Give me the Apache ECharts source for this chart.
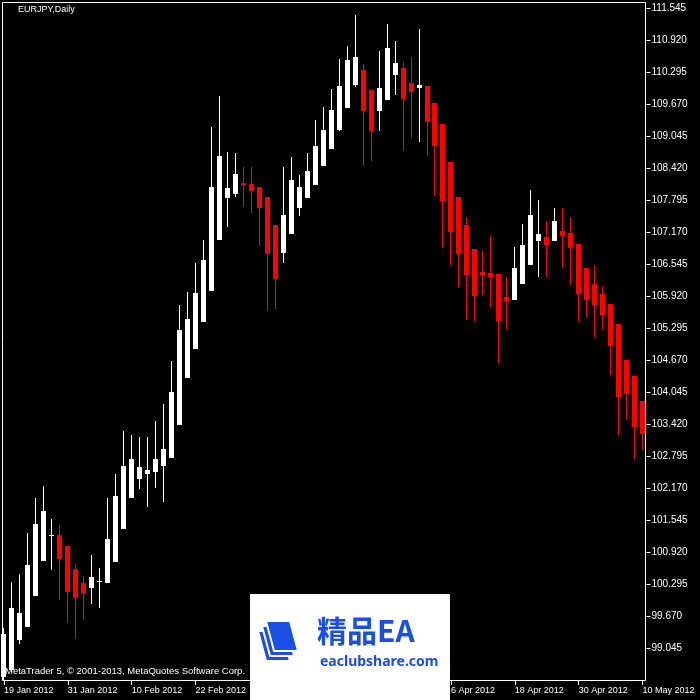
<!DOCTYPE html>
<html><head><meta charset="utf-8">
<script src="https://cdn.jsdelivr.net/npm/echarts@6/dist/echarts.min.js"></script>
<style>html,body{margin:0;padding:0;background:#000}#c{width:700px;height:700px}</style>
</head><body><div id="c"></div>
<script>
const chartTitle = 'EURJPY,Daily';
const copyrightText = 'MetaTrader 5, © 2001-2013, MetaQuotes Software Corp.';
const dates = [
 '19 Jan 2012','20 Jan 2012','23 Jan 2012','24 Jan 2012','25 Jan 2012','26 Jan 2012','27 Jan 2012','30 Jan 2012','31 Jan 2012',
 '1 Feb 2012','2 Feb 2012','3 Feb 2012','6 Feb 2012','7 Feb 2012','8 Feb 2012','9 Feb 2012','10 Feb 2012','13 Feb 2012','14 Feb 2012',
 '15 Feb 2012','16 Feb 2012','17 Feb 2012','20 Feb 2012','21 Feb 2012','22 Feb 2012','23 Feb 2012','24 Feb 2012','27 Feb 2012','28 Feb 2012','29 Feb 2012',
 '1 Mar 2012','2 Mar 2012','5 Mar 2012','6 Mar 2012','7 Mar 2012','8 Mar 2012','9 Mar 2012','12 Mar 2012','13 Mar 2012','14 Mar 2012',
 '15 Mar 2012','16 Mar 2012','19 Mar 2012','20 Mar 2012','21 Mar 2012','22 Mar 2012','23 Mar 2012','26 Mar 2012','27 Mar 2012','28 Mar 2012','29 Mar 2012','30 Mar 2012',
 '2 Apr 2012','3 Apr 2012','4 Apr 2012','5 Apr 2012','6 Apr 2012','9 Apr 2012','10 Apr 2012','11 Apr 2012','12 Apr 2012','13 Apr 2012',
 '16 Apr 2012','17 Apr 2012','18 Apr 2012','19 Apr 2012','20 Apr 2012','23 Apr 2012','24 Apr 2012','25 Apr 2012','26 Apr 2012','27 Apr 2012','30 Apr 2012',
 '1 May 2012','2 May 2012','3 May 2012','4 May 2012','7 May 2012','8 May 2012','9 May 2012','10 May 2012'
];
const openP = [
 98.488, 98.625, 99.211, 99.471,100.070,100.760,101.233,101.262,101.047,100.598,
 100.324,100.232,100.334,100.330,100.740,101.385,101.990,102.355,102.453,102.492,
 102.609,102.766,103.410,104.334,104.895,105.428,106.033,107.023,107.844,107.922,
 108.137,108.117,108.059,107.863,107.316,106.770,107.141,107.648,107.844,108.098,
 108.469,108.801,109.172,109.608,110.051,110.344,109.953,109.549,109.764,110.252,
 110.383,110.090,109.998,110.031,109.699,109.289,108.547,107.863,107.316,106.848,
 106.404,106.379,106.359,105.910,105.852,106.164,106.535,107.004,107.082,107.004,
 107.199,107.160,106.945,106.477,106.164,105.969,105.774,105.383,104.680,104.367,
 103.879
];
const closeP = [
 99.328, 99.842, 99.744,100.676,101.477,101.731,101.262,100.793,100.154,100.037,
 100.129,100.441,100.363,101.184,102.023,102.609,102.746,102.590,102.531,102.746,
 102.941,104.055,105.266,105.480,105.988,106.633,108.059,108.664,108.039,108.313,
 108.098,107.980,107.648,106.750,106.262,107.512,108.195,108.059,108.371,108.859,
 109.172,109.563,110.031,110.539,110.598,109.549,109.158,109.992,110.773,110.480,
 109.783,109.920,110.051,109.334,108.859,107.785,107.180,106.750,106.340,105.930,
 106.340,106.301,105.441,105.832,106.477,106.926,107.512,107.141,106.926,107.395,
 107.102,106.858,105.969,105.852,105.754,105.559,104.953,103.957,104.016,103.371,
 103.234
];
const lowP = [
 98.430, 98.586, 99.133, 99.471,100.070,100.760,100.578, 99.992, 99.537, 99.230,
 99.607, 99.920, 99.842,100.330,100.740,101.385,101.990,102.160,101.809,102.180,
 101.906,102.766,103.410,104.334,104.895,105.428,106.033,107.023,107.277,107.863,
 107.668,107.551,106.906,105.637,105.676,106.574,107.141,107.492,107.844,108.098,
 108.469,108.801,109.152,109.608,110.012,108.475,108.572,109.158,109.764,109.861,
 108.768,109.022,108.943,108.670,107.883,106.867,106.535,106.105,105.461,105.441,
 105.949,105.715,104.621,105.266,105.852,106.164,106.535,106.301,106.301,107.004,
 106.477,106.145,105.441,105.520,105.129,105.285,104.387,103.215,103.508,102.746,
 102.922
];
const highP = [
 99.445,100.344,100.500,101.295,101.979,102.219,101.574,101.457,101.047,100.695,
 100.461,100.871,100.617,101.984,102.453,103.293,103.215,103.176,103.176,103.488,
 103.820,104.660,105.754,106.014,106.574,107.023,109.230,109.836,108.742,108.723,
 108.449,108.449,108.059,107.863,107.316,108.449,108.645,108.293,108.723,109.367,
 109.621,109.973,110.559,110.813,111.418,110.461,109.953,110.715,111.242,110.910,
 110.500,110.598,111.145,110.031,109.699,109.289,108.547,107.863,107.473,106.848,
 106.809,107.102,106.359,106.301,106.887,107.336,108.000,107.805,107.395,107.648,
 107.648,107.473,106.945,106.477,106.535,106.125,105.774,105.383,104.680,104.367,
 103.879
];
const priceTicks = [111.545,110.920,110.295,109.670,109.045,108.420,107.795,107.170,106.545,105.920,
 105.295,104.670,104.045,103.420,102.795,102.170,101.545,100.920,100.295,99.670,99.045];
const wmTitle = '精品EA';
const wmSite = 'eaclubshare.com';

const rows = dates.map((d, i) => [i, openP[i], closeP[i], lowP[i], highP[i]]);
const blue = '#1b4fe4';

function renderCandle(params, api) {
  const i = api.value(0), o = api.value(1), c = api.value(2), l = api.value(3), h = api.value(4);
  const pO = api.coord([i, o]), pC = api.coord([i, c]);
  const yH = Math.round(api.coord([i, h])[1]);
  const yL = Math.round(api.coord([i, l])[1]);
  const cx = Math.floor(pO[0]);
  const top = Math.round(Math.min(pO[1], pC[1]));
  const bot = Math.round(Math.max(pO[1], pC[1]));
  const color = c >= o ? '#ffffff' : '#ff0000';
  return {
    type: 'group',
    children: [
      {type: 'rect', shape: {x: cx, y: yH, width: 1, height: Math.max(1, yL - yH)}, style: {fill: color}},
      {type: 'rect', shape: {x: cx - 2, y: top, width: 5, height: Math.max(1, bot - top)}, style: {fill: color}}
    ]
  };
}

const chart = echarts.init(document.getElementById('c'), null, {renderer: 'canvas'});
chart.setOption({
  backgroundColor: '#000000',
  animation: false,
  grid: {left: -1.5, top: 2, width: 648, height: 679},
  xAxis: {
    type: 'category', data: dates, boundaryGap: true,
    axisLine: {show: false},
    axisTick: {show: true, alignWithLabel: true, interval: 7, length: 4, lineStyle: {color: '#ffffff'}},
    axisLabel: {interval: 7, align: 'left', color: '#ffffff', fontSize: 9, fontFamily: 'Liberation Sans', margin: 5},
    splitLine: {show: false}
  },
  yAxis: {
    type: 'value', position: 'right', min: 98.41, max: 111.672,
    axisLine: {show: false},
    axisTick: {show: true, customValues: priceTicks, length: 4, lineStyle: {color: '#ffffff'}},
    axisLabel: {customValues: priceTicks, formatter: v => v.toFixed(3), color: '#ffffff', fontSize: 10, fontFamily: 'Liberation Sans', margin: 5},
    splitLine: {show: false}
  },
  series: [{
    type: 'custom', data: rows, encode: {x: 0, y: [1, 2, 3, 4]}, clip: false,
    renderItem: renderCandle
  }],
  graphic: [
    {type: 'rect', z: 0, shape: {x: 2.5, y: 2.5, width: 643, height: 678}, style: {fill: null, stroke: '#ffffff', lineWidth: 1}},
    {type: 'text', z: 50, x: 18, y: 10, style: {text: chartTitle, fill: '#ffffff', font: '9px "Liberation Sans"', verticalAlign: 'middle'}},
    {type: 'text', z: 50, x: 5, y: 671, style: {text: copyrightText, fill: '#ffffff', font: '9.5px "Liberation Sans"', verticalAlign: 'middle'}},
    {type: 'rect', z: 100, shape: {x: 250, y: 594, width: 200, height: 106}, style: {fill: '#ffffff'}},
    {type: 'polygon', z: 101, shape: {points: [[258,631],[282,631],[290,661],[266,661]]}, style: {fill: blue, stroke: '#ffffff', lineWidth: 2, lineJoin: 'round'}},
    {type: 'polygon', z: 102, shape: {points: [[262,626],[286,626],[294,656],[270,656]]}, style: {fill: blue, stroke: '#ffffff', lineWidth: 2, lineJoin: 'round'}},
    {type: 'polygon', z: 103, shape: {points: [[266,621],[290,621],[298,651],[274,651]]}, style: {fill: blue, stroke: '#ffffff', lineWidth: 2, lineJoin: 'round'}},
    {type: 'text', z: 104, x: 317, y: 631, style: {text: wmTitle, fill: blue, font: 'bold 30px "Noto Sans CJK SC"', verticalAlign: 'middle'}},
    {type: 'text', z: 104, x: 320, y: 662, style: {text: wmSite, fill: blue, font: 'bold 14px "Noto Sans"', verticalAlign: 'middle'}}
  ]
});
</script></body></html>
